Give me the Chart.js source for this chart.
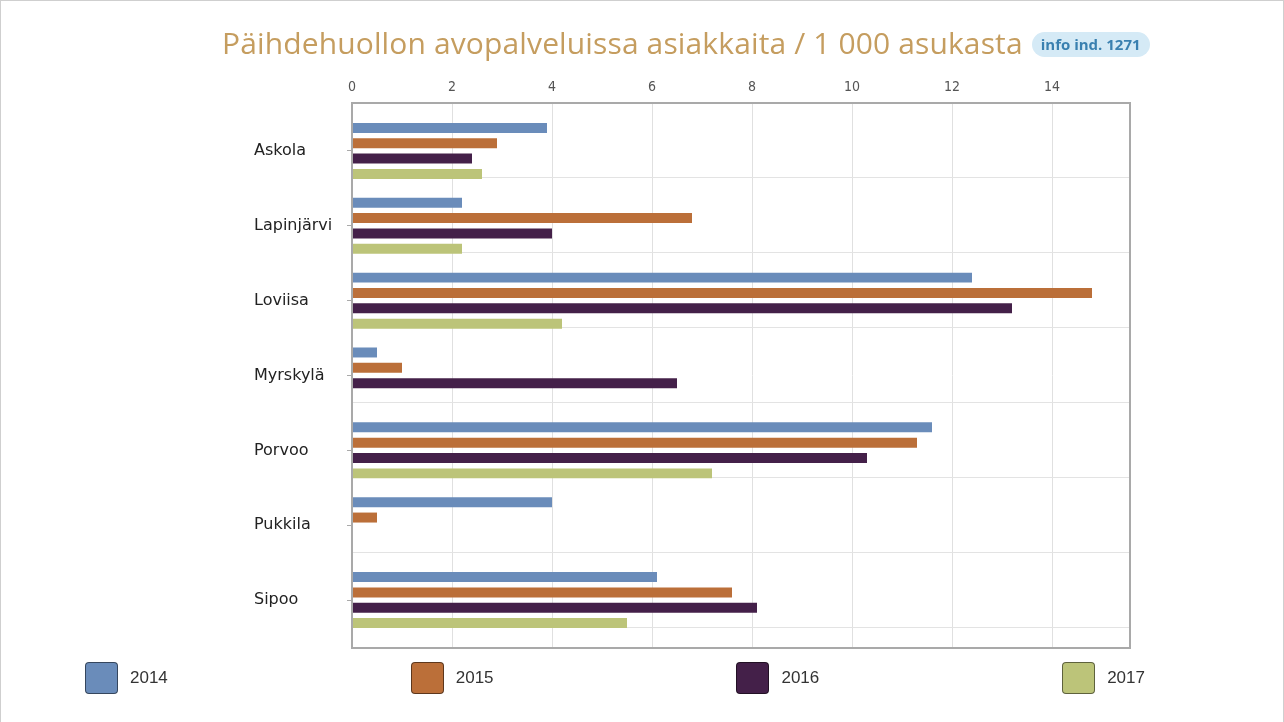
<!DOCTYPE html>
<html>
<head>
<meta charset="utf-8">
<script src="https://cdn.jsdelivr.net/npm/chart.js@4.4.1/dist/chart.umd.min.js"></script>
<style>
  body { margin: 0; background: #fff; }
  #wrap { position: relative; width: 1284px; height: 722px; overflow: hidden; box-sizing: border-box;
          border-left: 1px solid #cfcfcf; border-top: 1px solid #cfcfcf; border-right: 1px solid #cfcfcf; }
  #otsikko { position: absolute; left: 221px; top: 21px; display: flex; align-items: center; white-space: nowrap; }
  #otsikko h1 { margin: 0; font: 400 30px "Open Sans", sans-serif; letter-spacing: 0.13px; color: #c59d5f; }
  #otsikko span { margin-left: 9px; margin-top: 3px; height: 25px; display: inline-flex; align-items: center;
                  padding: 0 9px; border-radius: 13px;
                  background: #d5eaf6; color: #3a80b0; font: 700 15px "Open Sans", sans-serif; }
  #kaavio { position: absolute; left: 0; top: 0; }
  #selite { position: absolute; left: 84px; top: 661px; width: 1060px; display: flex; justify-content: space-between; }
  .item { display: flex; align-items: center; }
  .laatikko { width: 31px; height: 30px; border: 1px solid rgba(0,0,0,0.5); border-radius: 4px; }
  .item span { margin-left: 12px; font: 17px "Liberation Sans", Arial, sans-serif; color: #333; }
</style>
</head>
<body>
<div id="wrap">
  <canvas id="kaavio" width="1284" height="722"></canvas>
  <div id="otsikko"><h1>Päihdehuollon avopalveluissa asiakkaita / 1 000 asukasta</h1><span>info ind. 1271</span></div>
  <div id="selite"></div>
</div>
<script>
const kunnat = ['Askola', 'Lapinjärvi', 'Loviisa', 'Myrskylä', 'Porvoo', 'Pukkila', 'Sipoo'];
const vuodet = ['2014', '2015', '2016', '2017'];
const arvot2014 = [3.9, 2.2, 12.4, 0.5, 11.6, 4.0, 6.1];
const arvot2015 = [2.9, 6.8, 14.8, 1.0, 11.3, 0.5, 7.6];
const arvot2016 = [2.4, 4.0, 13.2, 6.5, 10.3, null, 8.1];
const arvot2017 = [2.6, 2.2, 4.2, null, 7.2, null, 5.5];
const xTikit = [0, 2, 4, 6, 8, 10, 12, 14];
const varit = ['#6a8cba', '#bb6f39', '#442049', '#bcc479'];

const sarjat = [arvot2014, arvot2015, arvot2016, arvot2017];

// bar data as {x, y} so the index axis can be linear
function pisteet(arr) {
    return arr.map((v, i) => ({ x: v, y: i })).filter(p => p.x !== null);
}

const kehys = {
    id: 'kehys',
    afterDatasetsDraw(chart) {
        const a = chart.chartArea;
        const c = chart.ctx;
        c.save();
        c.strokeStyle = '#a9a9a9';
        c.lineWidth = 2;
        c.strokeRect(a.left, a.top, a.right - a.left, a.bottom - a.top);
        c.restore();
    }
};

new Chart(document.getElementById('kaavio'), {
    type: 'bar',
    data: {
        datasets: vuodet.map((v, i) => ({
            label: v,
            data: pisteet(sarjat[i]),
            backgroundColor: varit[i],
            borderWidth: 0,
            categoryPercentage: 0.82,
            barPercentage: 0.65
        }))
    },
    options: {
        responsive: false,
        animation: false,
        indexAxis: 'y',
        layout: { padding: { left: 253, top: 69, right: 155, bottom: 75 } },
        plugins: { legend: { display: false }, tooltip: { enabled: false } },
        scales: {
            x: {
                type: 'linear',
                position: 'top',
                min: 0,
                max: 15.56,
                afterBuildTicks: s => { s.ticks = xTikit.map(v => ({ value: v })); },
                afterFit: s => { s.height = 33; },
                ticks: { color: '#555', padding: 7, font: { family: "'DejaVu Sans Condensed', 'Liberation Sans', sans-serif", size: 14 } },
                grid: { color: '#e0e0e0', tickLength: 0 },
                border: { display: false }
            },
            y: {
                type: 'linear',
                reverse: true,
                offset: false,
                min: -0.64,
                max: 6.64,
                afterBuildTicks: s => { s.ticks = kunnat.map((k, i) => ({ value: i })); },
                afterFit: s => { s.width = 98; },
                ticks: {
                    callback: v => kunnat[v],
                    color: '#222',
                    crossAlign: 'far',
                    font: { family: 'DejaVu Sans', size: 16 }
                },
                grid: { offset: false, drawOnChartArea: false, tickLength: 5, color: '#aaa' },
                border: { display: false }
            },
            y2: {
                type: 'linear',
                position: 'left',
                reverse: true,
                offset: false,
                min: -0.64,
                max: 6.64,
                afterBuildTicks: s => { s.ticks = kunnat.map((k, i) => ({ value: i + 0.36 })); },
                afterFit: s => { s.width = 0; },
                ticks: { display: false },
                grid: { offset: false, color: '#e3e3e3', tickLength: 0 },
                border: { display: false }
            }
        }
    },
    plugins: [kehys]
});

// selite
const selite = document.getElementById('selite');
vuodet.forEach((v, i) => {
    const d = document.createElement('div');
    d.className = 'item';
    d.innerHTML = '<div class="laatikko" style="background:' + varit[i] + '"></div><span>' + v + '</span>';
    selite.appendChild(d);
});
</script>
</body>
</html>
